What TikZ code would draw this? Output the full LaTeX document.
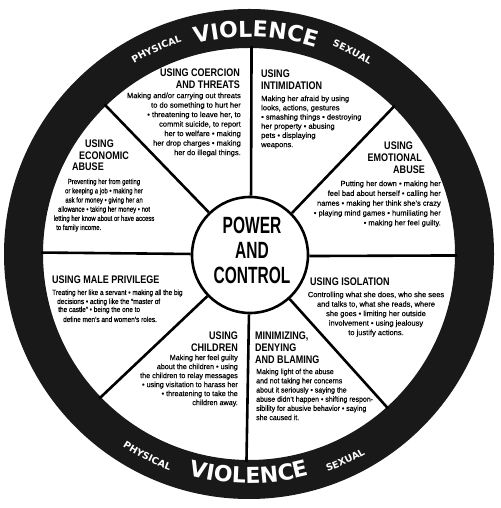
\documentclass[tikz,border=0pt]{standalone}
\usepackage{fontspec}
\setmainfont{Liberation Sans}
\newfontfamily\bodyA[FakeBold=0.4]{Liberation Sans}
\newfontfamily\bodyE[FakeStretch=0.80,FakeBold=0.4]{Liberation Sans}
\newfontfamily\bodyM[FakeStretch=0.86,FakeBold=0.4]{Liberation Sans}
\newfontfamily\bodyN[FakeStretch=0.93,FakeBold=0.4]{Liberation Sans}
\newfontfamily\bodyC[FakeStretch=0.96,FakeBold=0.4]{Liberation Sans}
\newfontfamily\headF[FakeStretch=0.82]{Liberation Sans}
\newfontfamily\centF[FakeStretch=0.66]{Liberation Sans}
\newfontfamily\violF{DejaVu Sans}
\newcommand\violbig{\violF\bfseries\fontsize{22}{22}\selectfont}
\newcommand\violsmall{\violF\bfseries\fontsize{9.5}{9.5}\selectfont}
\usetikzlibrary{decorations.text,calc}
\begin{document}
\begin{tikzpicture}[x=1pt,y=1pt,
  head/.style={inner sep=0pt, font=\headF\bfseries\fontsize{11}{12}\selectfont},
  body/.style={inner sep=0pt, font=\bodyA\fontsize{7.5}{9.4}\selectfont},
  spoke/.style={line width=2.6pt, black},
  arctext/.style={decorate, decoration={text along path, text align=center, text color=white, text={#1}}}
]
\useasboundingbox (0,0) rectangle (500,508);
\fill[white] (0,0) rectangle (500,508);
\coordinate (W) at (249,254);
% ring
\fill[black!90, even odd rule] (W) circle[radius=245] (W) circle[radius=206];
% centre circle
\node[circle, draw, line width=2.6pt, fill=white, minimum size=116pt, inner sep=0pt] (pc) at (250,253) {};
% spokes
\foreach \a/\n in {89.3/a,134/b,179.6/c,224/d,269.3/e,312/f,359.6/g,45.5/h}{
  \coordinate (r\n) at ($(W)+(\a:208)$);
  \draw[spoke] (pc.\a) -- (r\n);
}
% centre text
\node[font=\centF\bfseries\fontsize{23.5}{25}\selectfont, align=center, inner sep=0pt] (pct) at (252,257.5) {POWER\\AND\\CONTROL};

% arc texts
\path[arctext={|\violbig|VIOLENCE}] ($(W)+(118:217)$) arc[start angle=118, end angle=58.4, radius=217];
\path[arctext={|\violsmall|PHYSICAL}] ($(W)+(129.3:222.5)$) arc[start angle=129.3, end angle=99.3, radius=222.5];
\path[arctext={|\violsmall|SEXUAL}] ($(W)+(77.9:224)$) arc[start angle=77.9, end angle=47.9, radius=224];
\path[arctext={|\violbig|VIOLENCE}] ($(W)+(-120:229.5)$) arc[start angle=-120, end angle=-60, radius=229.5];
\path[arctext={|\violsmall|PHYSICAL}] ($(W)+(-131.7:230.5)$) arc[start angle=-131.7, end angle=-101.7, radius=230.5];
\path[arctext={|\violsmall|SEXUAL}] ($(W)+(-80:231.5)$) arc[start angle=-80, end angle=-50, radius=231.5];

% Coercion
\node[head, anchor=north east, align=right] (h1) at (240,439) {USING COERCION\\AND THREATS};
\node[body, anchor=north east, align=right, font=\bodyA\fontsize{7.5}{9.5}\selectfont] (b1) at (241,415.5) {Making and/or carrying out threats\\to do something to hurt her\\• threatening to leave her, to\\commit suicide, to report\\her to welfare • making\\her drop charges • making\\her do illegal things.};

% Intimidation
\node[head, anchor=north west, align=left] (h2) at (261,438) {USING\\INTIMIDATION};
\node[body, anchor=north west, align=left, font=\bodyA\fontsize{7.5}{9.2}\selectfont] (b2) at (261,412.5) {Making her afraid by using\\looks, actions, gestures\\• smashing things • destroying\\her property • abusing\\pets • displaying\\weapons.};

% Economic
\node[head, anchor=north west] (h3a) at (85,368) {USING};
\node[head, anchor=north west] (h3b) at (79,356) {ECONOMIC};
\node[head, anchor=north west] (h3c) at (72,345) {ABUSE};
\node[body, font=\bodyE\fontsize{7.5}{9.2}\selectfont, anchor=north, align=center] (b3) at (104,329.5) {Preventing her from getting\\or keeping a job • making her\\ask for money • giving her an\\allowance • taking her money • not\\letting her know about or have access};
\node[body, font=\bodyE\fontsize{7.5}{9.2}\selectfont, anchor=base west] (b3b) at (56,278) {to family income.};

% Emotional
\node[head, anchor=north east] (h4a) at (413,366) {USING};
\node[head, anchor=north east] (h4b) at (422,354) {EMOTIONAL};
\node[head, anchor=north east] (h4c) at (425,342) {ABUSE};
\node[body, font=\bodyA\fontsize{7.5}{9.8}\selectfont, anchor=north east, align=right] (b4) at (441,327.5) {Putting her down • making her\\feel bad about herself • calling her\\names • making her think she’s crazy\\• playing mind games • humiliating her\\• making her feel guilty.};

% Male privilege
\node[head, anchor=north west] (h5) at (52,232) {USING MALE PRIVILEGE};
\node[body, font=\bodyM\fontsize{7.5}{9}\selectfont, anchor=base west] (b5a) at (52,213) {Treating her like a servant • making all the big};
\node[body, font=\bodyM\fontsize{7.5}{9}\selectfont, anchor=base west] (b5b) at (57,204) {decisions • acting like the “master of};
\node[body, font=\bodyM\fontsize{7.5}{9}\selectfont, anchor=base west] (b5c) at (58,196) {the castle” • being the one to};
\node[body, font=\bodyM\fontsize{7.5}{9}\selectfont, anchor=base west] (b5d) at (63,186) {define men’s and women’s roles.};

% Isolation
\node[head, anchor=north west] (h6) at (310,230) {USING ISOLATION};
\node[body, font=\bodyA\fontsize{7.5}{9.5}\selectfont, anchor=north, align=center] (b6) at (376,216.5) {Controlling what she does, who she sees\\and talks to, what she reads, where\\she goes • limiting her outside\\involvement • using jealousy\\to justify actions.};

% Children
\node[head, anchor=north east, align=right] (h7) at (238,176) {USING\\CHILDREN};
\node[body, font=\bodyC\fontsize{7.5}{9.0}\selectfont, anchor=north east, align=right] (b7) at (238,153.5) {Making her feel guilty\\about the children • using\\the children to relay messages\\• using visitation to harass her\\• threatening to take the\\children away.};

% Minimizing
\node[head, anchor=north west, align=left] (h8) at (255,176) {MINIMIZING,\\DENYING\\AND BLAMING};
\node[body, font=\bodyN\fontsize{7.5}{9.2}\selectfont, anchor=north west, align=left] (b8) at (256,139.5) {Making light of the abuse\\and not taking her concerns\\about it seriously • saying the\\abuse didn’t happen • shifting respon-\\sibility for abusive behavior • saying\\she caused it.};
\end{tikzpicture}
\end{document}
